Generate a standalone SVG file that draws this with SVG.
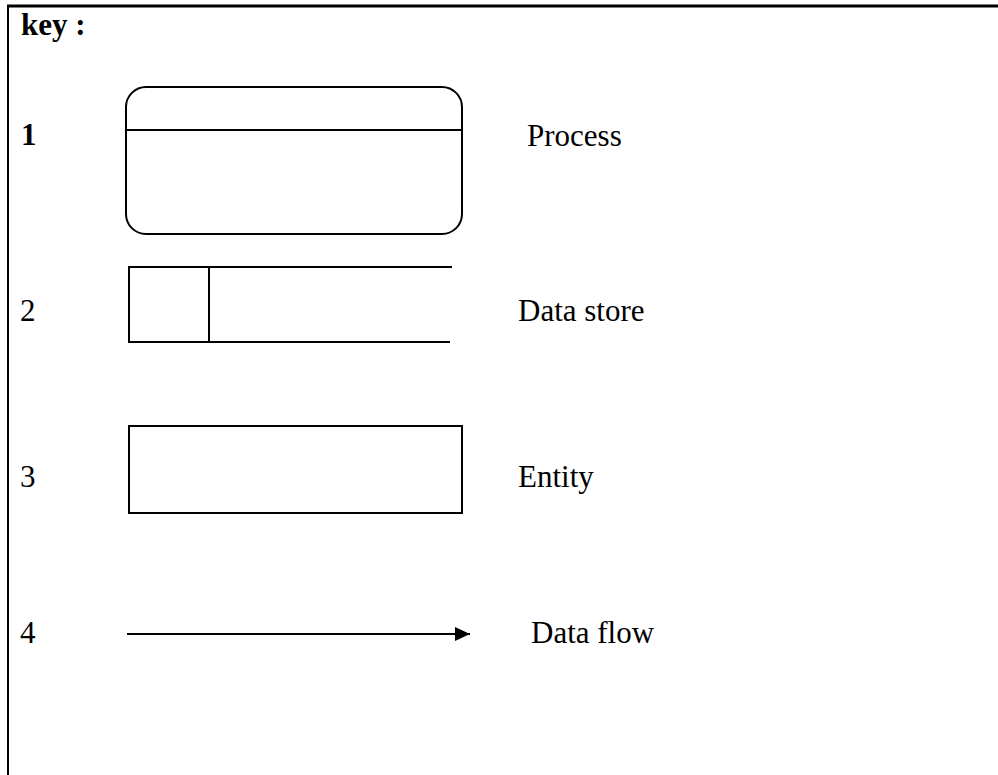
<svg xmlns="http://www.w3.org/2000/svg" width="998" height="775" viewBox="0 0 998 775">
<defs>
<style>
.t{font-family:"Liberation Serif","Times New Roman",serif;font-size:31px;fill:#000}
.b{font-weight:bold}
.s{fill:none;stroke:#000;stroke-width:2}
</style>
<marker id="ah" markerWidth="15" markerHeight="14" refX="15" refY="7" orient="auto" markerUnits="userSpaceOnUse">
<polygon points="0,0 15,7 0,14" fill="#000"/>
</marker>
</defs>
<rect width="998" height="775" fill="#fff"/>
<g id="frame">
<line x1="7" y1="6" x2="998" y2="6" stroke="#000" stroke-width="3"/>
<line x1="8" y1="5" x2="8" y2="775" stroke="#000" stroke-width="2"/>
<text class="t b" x="21" y="35">key :</text>
</g>
<g id="process">
<text class="t b" x="21" y="145">1</text>
<rect class="s" x="126" y="87" width="336" height="147" rx="20" ry="20"/>
<line class="s" x1="126" y1="130" x2="462" y2="130"/>
<text class="t" x="527" y="146">Process</text>
</g>
<g id="datastore">
<text class="t" x="20" y="321">2</text>
<path class="s" d="M452,267 H129 V342 H450 M209,267 V342"/>
<text class="t" x="518" y="321">Data store</text>
</g>
<g id="entity">
<text class="t" x="20" y="487">3</text>
<rect class="s" x="129" y="426" width="333" height="87"/>
<text class="t" x="518" y="487">Entity</text>
</g>
<g id="connectors">
<text class="t" x="20" y="643">4</text>
<line x1="127" y1="634" x2="470" y2="634" stroke="#000" stroke-width="2" marker-end="url(#ah)"/>
<text class="t" x="531" y="643">Data flow</text>
</g>
</svg>
